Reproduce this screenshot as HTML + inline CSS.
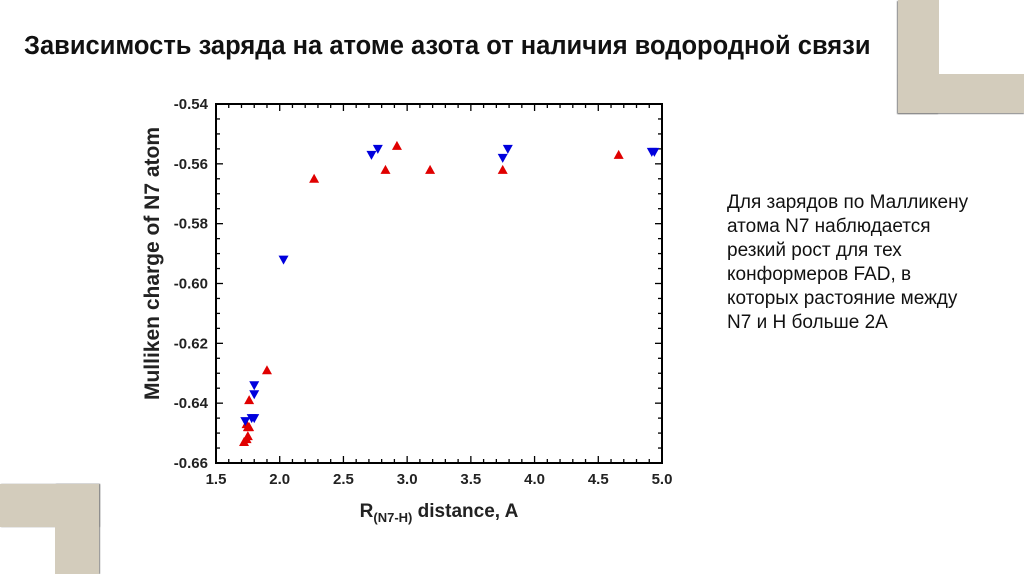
<!DOCTYPE html>
<html><head><meta charset="utf-8"><style>
body{margin:0;width:1024px;height:574px;background:#fff;position:relative;overflow:hidden;font-family:"Liberation Sans",sans-serif}
.d{position:absolute;background:#d3ccbc}
#title{position:absolute;left:24px;top:32px;font-size:25.5px;font-weight:bold;color:#111;white-space:nowrap}
#note{position:absolute;left:727px;top:191px;font-size:19px;line-height:24px;color:#111;white-space:nowrap}
</style></head><body>
<div class="d" style="left:898px;top:0;width:41px;height:113px;box-shadow:-1px 1px 1px #888"></div>
<div class="d" style="left:898px;top:74px;width:126px;height:39px;box-shadow:0 1px 1px #888"></div>
<div class="d" style="left:0;top:484px;width:99px;height:43px;box-shadow:1px 0 1px #888"></div>
<div class="d" style="left:55px;top:484px;width:44px;height:90px;box-shadow:1px 0 1px #888"></div>
<div id="title">Зависимость заряда на атоме азота от наличия водородной связи</div>
<div id="note">Для зарядов по Малликену<br>атома N7 наблюдается<br>резкий рост для тех<br>конформеров FAD, в<br>которых растояние между<br>N7 и H больше 2A</div>
<svg id="chart" width="1024" height="574" style="position:absolute;left:0;top:0" font-family="Liberation Sans, sans-serif"></svg>
<script>
const xTicks=[1.5,2.0,2.5,3.0,3.5,4.0,4.5,5.0];
const yTicks=[-0.54,-0.56,-0.58,-0.60,-0.62,-0.64,-0.66];
const redX=[1.72,1.74,1.75,1.74,1.75,1.76,1.76,1.90,2.27,2.83,2.92,3.18,3.75,4.66];
const redY=[-0.653,-0.652,-0.651,-0.647,-0.648,-0.648,-0.639,-0.629,-0.565,-0.562,-0.554,-0.562,-0.562,-0.557];
const blueX=[1.73,1.78,1.80,1.80,1.80,2.03,2.72,2.77,3.75,3.79,4.92,4.94];
const blueY=[-0.646,-0.645,-0.645,-0.637,-0.634,-0.592,-0.557,-0.555,-0.558,-0.555,-0.556,-0.556];
const L=216,R=662,T=104,B=463;
const sx=v=>L+(v-1.5)/3.5*(R-L);
const sy=v=>T+(-0.54-v)/0.12*(B-T);
const svg=document.getElementById('chart');
const NS='http://www.w3.org/2000/svg';
function mk(t,a,txt){const e=document.createElementNS(NS,t);for(const k in a)e.setAttribute(k,a[k]);if(txt!==undefined)e.textContent=txt;svg.appendChild(e);return e;}
const frame=mk('rect',{x:L,y:T,width:R-L,height:B-T,fill:'none',stroke:'#000','stroke-width':2});


for(let i=0;i<=35;i++){const v=1.5+i*0.1;const x=sx(v);const big=i%5==0;const len=big?7:4;
 mk('line',{x1:x,y1:B,x2:x,y2:B-len,stroke:'#000','stroke-width':1.3});
 mk('line',{x1:x,y1:T,x2:x,y2:T+len,stroke:'#000','stroke-width':1.3});}
for(let i=0;i<=24;i++){const v=-0.54-i*0.005;const y=sy(v);const big=i%4==0;const len=big?7:4;
 mk('line',{x1:L,y1:y,x2:L+len,y2:y,stroke:'#000','stroke-width':1.3});
 mk('line',{x1:R,y1:y,x2:R-len,y2:y,stroke:'#000','stroke-width':1.3});}
xTicks.forEach(v=>{const t=mk('text',{x:sx(v),y:B+21,'font-size':15,'font-weight':'bold','text-anchor':'middle',fill:'#222'},v.toFixed(1));
 
 });
yTicks.forEach(v=>{const t=mk('text',{x:L-8,y:sy(v)+5,'font-size':15,'font-weight':'bold','text-anchor':'end',fill:'#222'},v.toFixed(2));
 
 });
const yt=mk('text',{x:0,y:0,transform:`translate(159,${(122+405)/2}) rotate(-90)`,'font-size':21,'font-weight':'bold','text-anchor':'middle',fill:'#222'},'Mulliken charge of N7 atom');


const xt=mk('text',{x:439,y:517,'font-size':19,'font-weight':'bold','text-anchor':'middle',fill:'#222'});


xt.innerHTML='R<tspan font-size="13" dy="5">(N7-H)</tspan><tspan dy="-5"> distance, A</tspan>';
redX.forEach((v,i)=>{const x=sx(v),y=sy(redY[i]);
 const p=mk('polygon',{points:`${x},${y-5} ${x-5},${y+4} ${x+5},${y+4}`,fill:'#e00000'});
 
 });
blueX.forEach((v,i)=>{const x=sx(v),y=sy(blueY[i]);
 const p=mk('polygon',{points:`${x-5},${y-4} ${x+5},${y-4} ${x},${y+5}`,fill:'#0000dd'});
 
 });
</script>
</body></html>
